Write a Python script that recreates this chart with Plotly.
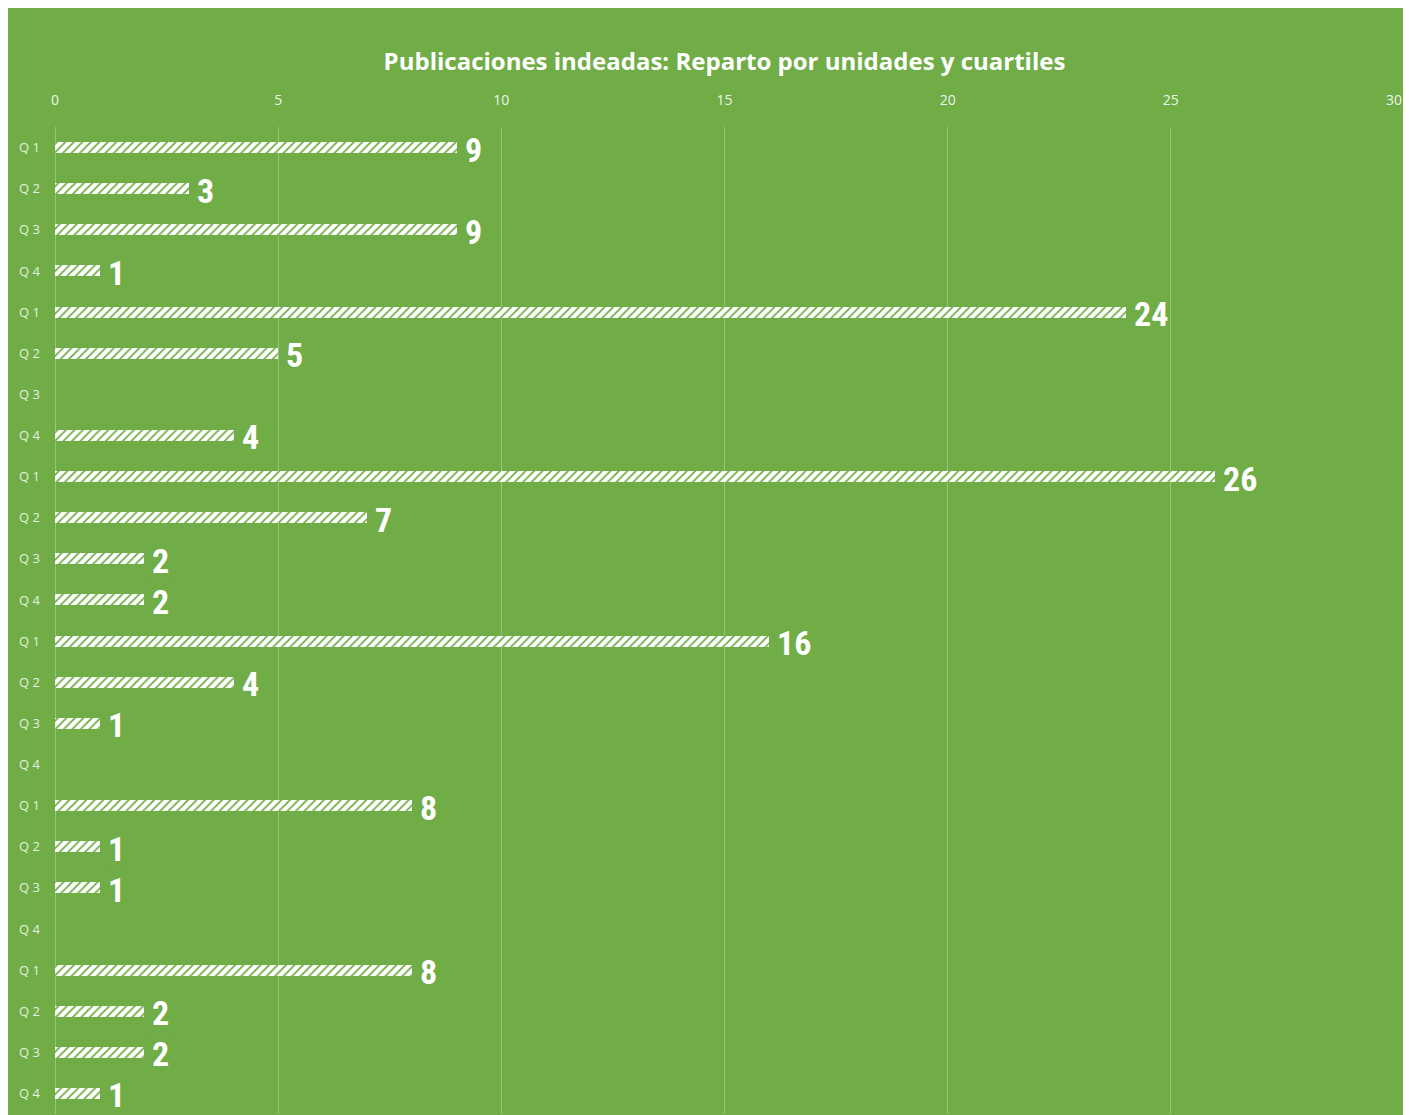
import plotly.graph_objects as go

quartiles = ["Q 1", "Q 2", "Q 3", "Q 4"] * 6
values = [9, 3, 9, 1,
          24, 5, None, 4,
          26, 7, 2, 2,
          16, 4, 1, None,
          8, 1, 1, None,
          8, 2, 2, 1]
x_ticks = [0, 5, 10, 15, 20, 25, 30]
title_text = "Publicaciones indeadas: Reparto por unidades y cuartiles"

GREEN = "#70AD47"
GRID = "#96c47a"
LABEL_FONT = "Roboto Condensed, Liberation Sans Narrow, DejaVu Sans Condensed, Open Sans"
positions = list(range(len(quartiles)))

fig = go.Figure()
fig.add_trace(go.Bar(
    x=values, y=positions, orientation="h", width=0.27,
    marker=dict(color="white", line=dict(width=0),
                pattern=dict(shape="/", fgcolor=GREEN, bgcolor="white",
                             size=6, solidity=0.3, fillmode="replace")),
    hoverinfo="skip",
))

for v, p in zip(values, positions):
    if v is None:
        continue
    fig.add_annotation(x=v, y=p, xref="x", yref="y", text="<b>%d</b>" % v,
                       showarrow=False, xanchor="left", yanchor="middle",
                       xshift=6, yshift=-2, bgcolor=GREEN, borderpad=1,
                       font=dict(family=LABEL_FONT, size=34, color="white"))

W, H = 1403, 1107
fig.update_layout(
    width=W, height=H,
    margin=dict(l=47, r=17, t=119, b=1),
    paper_bgcolor=GREEN, plot_bgcolor=GREEN,
    showlegend=False, bargap=0,
    title=dict(text="<b>" + title_text + "</b>", x=0.5, xanchor="center",
               xref="paper", y=1 - 54 / H, yanchor="middle",
               font=dict(family="Open Sans", size=24, color="white")),
    xaxis=dict(side="top", range=[0, 30], tickvals=x_ticks,
               ticktext=[str(t) for t in x_ticks],
               showgrid=True, gridcolor=GRID, gridwidth=1,
               zeroline=True, zerolinecolor=GRID, zerolinewidth=1,
               showline=False, ticks="", ticklabelstandoff=18,
               tickfont=dict(family="Open Sans", size=14,
                             color="rgba(255,255,255,0.9)")),
    yaxis=dict(tickvals=positions, ticktext=quartiles, autorange=False,
               range=[len(quartiles) - 0.5, -0.5],
               showgrid=False, zeroline=False, showline=False, ticks="",
               ticklabelstandoff=14,
               tickfont=dict(family="Open Sans", size=13,
                             color="rgba(255,255,255,0.85)")),
)

fig.write_html("out.html")
